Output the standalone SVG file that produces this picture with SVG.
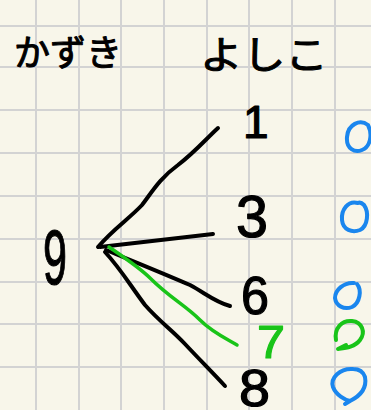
<svg xmlns="http://www.w3.org/2000/svg" width="371" height="410" viewBox="0 0 371 410">
<style>
.grid line{stroke:#d3d3d3;stroke-width:2}
.ink{fill:none;stroke:#000;stroke-width:4;stroke-linecap:round;stroke-linejoin:round}
.gink{fill:none;stroke:#19c419;stroke-width:3.5;stroke-linecap:round;stroke-linejoin:round}
.mark{fill:none;stroke:#1a86ee;stroke-width:4;stroke-linecap:round;stroke-linejoin:round}
.gmark{fill:none;stroke:#19c419;stroke-width:4;stroke-linecap:round;stroke-linejoin:round}
.jp{font-family:"Noto Sans CJK JP","Noto Sans",sans-serif;font-size:36px;fill:#000;stroke:#000;stroke-width:1;stroke-linejoin:round}
.num{font-family:"Liberation Sans","DejaVu Sans",sans-serif;fill:#000;stroke:#000;stroke-width:1.2;stroke-linejoin:round}
.green{fill:#19c419;stroke:#19c419}
</style>
<rect width="371" height="410" fill="#f8f6ea"/>
<g class="grid" id="grid">
<line x1="36" y1="0" x2="36" y2="410"/><line x1="79" y1="0" x2="79" y2="410"/><line x1="121" y1="0" x2="121" y2="410"/><line x1="164" y1="0" x2="164" y2="410"/><line x1="207" y1="0" x2="207" y2="410"/><line x1="249" y1="0" x2="249" y2="410"/><line x1="292" y1="0" x2="292" y2="410"/><line x1="335" y1="0" x2="335" y2="410"/>
<line x1="0" y1="26" x2="371" y2="26"/><line x1="0" y1="67" x2="371" y2="67"/><line x1="0" y1="110" x2="371" y2="110"/><line x1="0" y1="153" x2="371" y2="153"/><line x1="0" y1="196" x2="371" y2="196"/><line x1="0" y1="239" x2="371" y2="239"/><line x1="0" y1="282" x2="371" y2="282"/><line x1="0" y1="324" x2="371" y2="324"/><line x1="0" y1="367" x2="371" y2="367"/>
</g>
<g id="header-kazuki"><text class="jp" x="14" y="66" textLength="108" lengthAdjust="spacingAndGlyphs">かずき</text></g>
<g id="header-yoshiko"><text class="jp" x="200" y="68" textLength="128" lengthAdjust="spacingAndGlyphs" style="font-size:38px">よしこ</text></g>
<g id="connectors">
<path class="ink" d="M98,247 C112,230 130,218 142,205 C152,192 160,178 178,165 C195,152 205,140 218,128"/>
<path class="ink" d="M100,247 L213,234"/>
<path class="ink" d="M106,250 C130,260 160,272 190,285 C205,293 215,302 230,306"/>
<path class="gink" d="M109,247 C125,258 140,268 150,278 C170,298 185,305 200,320 C212,332 225,338 237,345"/>
<path class="ink" d="M105,252 C120,268 130,285 145,305 C160,322 172,330 185,344 C200,360 212,372 225,386"/>
</g>
<g id="node-9"><text class="num" x="43" y="284" font-size="78" textLength="24" lengthAdjust="spacingAndGlyphs">9</text></g>
<g id="node-1"><text class="num" x="243" y="138" font-size="46">1</text></g>
<g id="node-3"><text class="num" x="236" y="237" font-size="60" textLength="32" lengthAdjust="spacingAndGlyphs">3</text></g>
<g id="node-6"><text class="num" x="241" y="314" font-size="54" textLength="28" lengthAdjust="spacingAndGlyphs">6</text></g>
<g id="node-7"><text class="num green" x="257" y="358" font-size="46" textLength="28" lengthAdjust="spacingAndGlyphs">7</text></g>
<g id="node-8"><text class="num" x="239" y="406" font-size="52" textLength="31" lengthAdjust="spacingAndGlyphs">8</text></g>
<g id="marks">
<path class="mark" d="M368,125 C360,119 348,124 347,137 C346,149 355,153 362,150 C370,147 373,135 368,125"/>
<path class="mark" d="M358,203 C348,200 341,210 342,220 C343,230 352,233 360,230 C368,226 369,212 364,205 C362,203 360,202 358,203"/>
<path class="mark" d="M354,283 C344,282 335,290 335,298 C336,306 344,310 352,307 C360,303 362,290 357,284"/>
<path class="gmark" d="M336,340 C334,328 342,320 352,321 C362,322 366,332 360,340 C355,347 345,348 338,349 L346,345"/>
<path class="mark" d="M353,369 C340,368 330,378 333,387 C336,395 345,400 350,401 C360,396 367,388 365,377 C363,371 358,369 353,369 M350,401 L345,404"/>
</g>
</svg>
